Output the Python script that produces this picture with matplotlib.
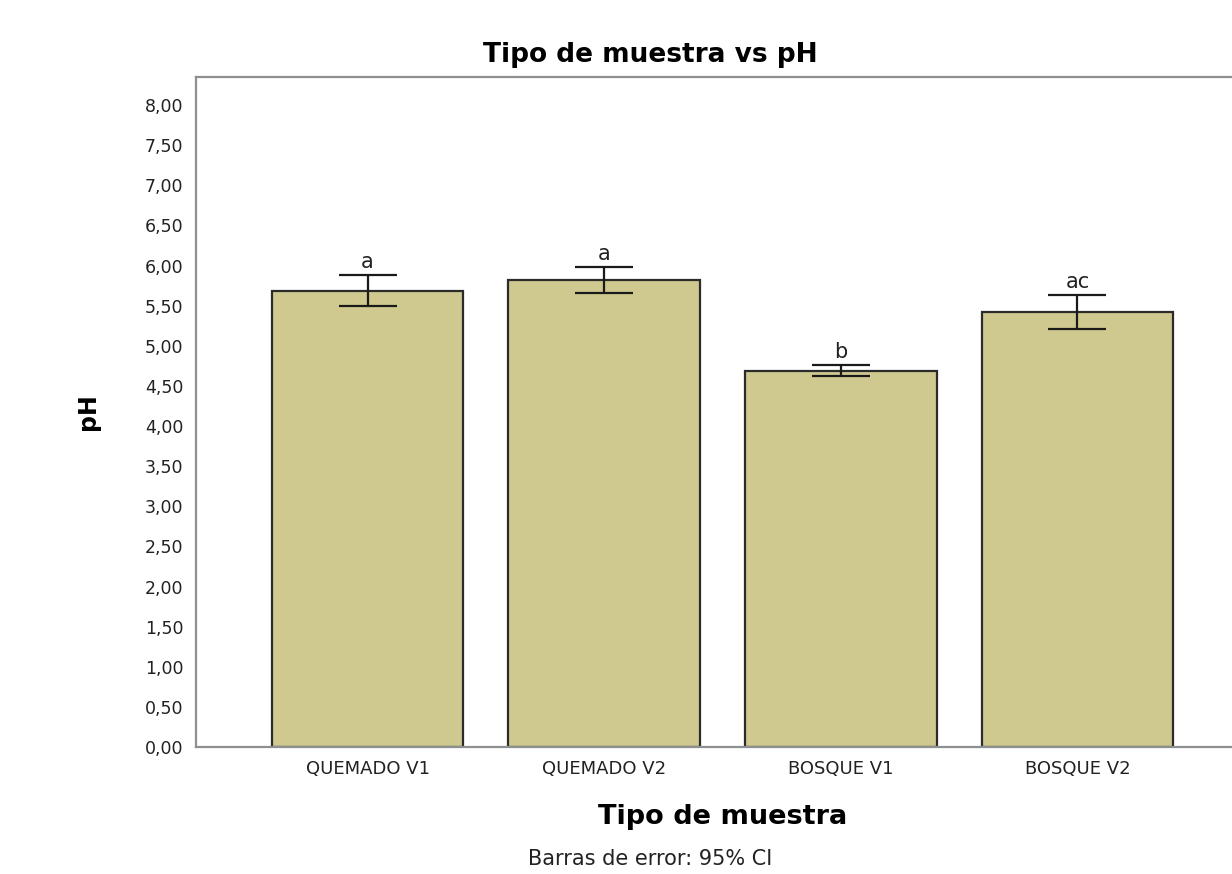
import matplotlib
matplotlib.use("Agg")
import matplotlib.pyplot as plt
import numpy as np
from matplotlib.ticker import FuncFormatter, MultipleLocator

plt.rcParams['font.family'] = ['DejaVu Sans']

# Mean pH per sample type with 95% confidence limits
categories = ["QUEMADO V1", "QUEMADO V2", "BOSQUE V1", "BOSQUE V2"]
mean_ph = [5.68, 5.82, 4.68, 5.42]
ci_low = [5.50, 5.66, 4.62, 5.21]
ci_high = [5.88, 5.98, 4.76, 5.63]
letters = ["a", "a", "b", "ac"]

fig = plt.figure(figsize=(12.32, 8.74), dpi=100)
ax = fig.add_axes([0.1591, 0.1453, 0.8547, 0.7666])

x = np.arange(len(categories))
means = np.array(mean_ph)
yerr = np.vstack([means - np.array(ci_low), np.array(ci_high) - means])

ax.bar(x, means, width=0.81, color="#CFC98F", edgecolor="#2b2b2b",
       linewidth=1.6, zorder=2)
ax.errorbar(x, means, yerr=yerr, fmt="none", ecolor="#1a1a1a",
            elinewidth=1.6, capsize=21, capthick=1.6, zorder=3)

for xi, hi, lab in zip(x, ci_high, letters):
    ax.text(xi, hi + 0.09, lab, ha="center", va="baseline",
            fontsize=15, color="#222222")

ax.set_xlim(-0.725, 3.725)
ax.set_ylim(0, 8.35)
ax.yaxis.set_major_locator(MultipleLocator(0.5))
ax.yaxis.set_major_formatter(FuncFormatter(lambda v, p: f"{v:.2f}".replace(".", ",")))
ax.set_xticks(x)
ax.set_xticklabels(categories)
ax.tick_params(axis="y", length=0, labelsize=12.5, colors="#222222", pad=9)
ax.tick_params(axis="x", length=0, labelsize=13, colors="#222222", pad=9)

for side in ["left", "bottom", "top", "right"]:
    ax.spines[side].set_color("#8c9090")
    ax.spines[side].set_linewidth(1.6)

ax.set_xlabel("Tipo de muestra", fontsize=19.5, fontweight="bold", labelpad=19)
ax.set_ylabel("pH", fontsize=17, fontweight="bold", labelpad=32)

fig.text(0.528, 0.929, "Tipo de muestra vs pH", ha="center", va="baseline",
         fontsize=19, fontweight="bold")
fig.text(0.528, 0.006, "Barras de error: 95% CI", ha="center", va="bottom",
         fontsize=15, color="#222222")

fig.savefig("out.png", dpi=100)
